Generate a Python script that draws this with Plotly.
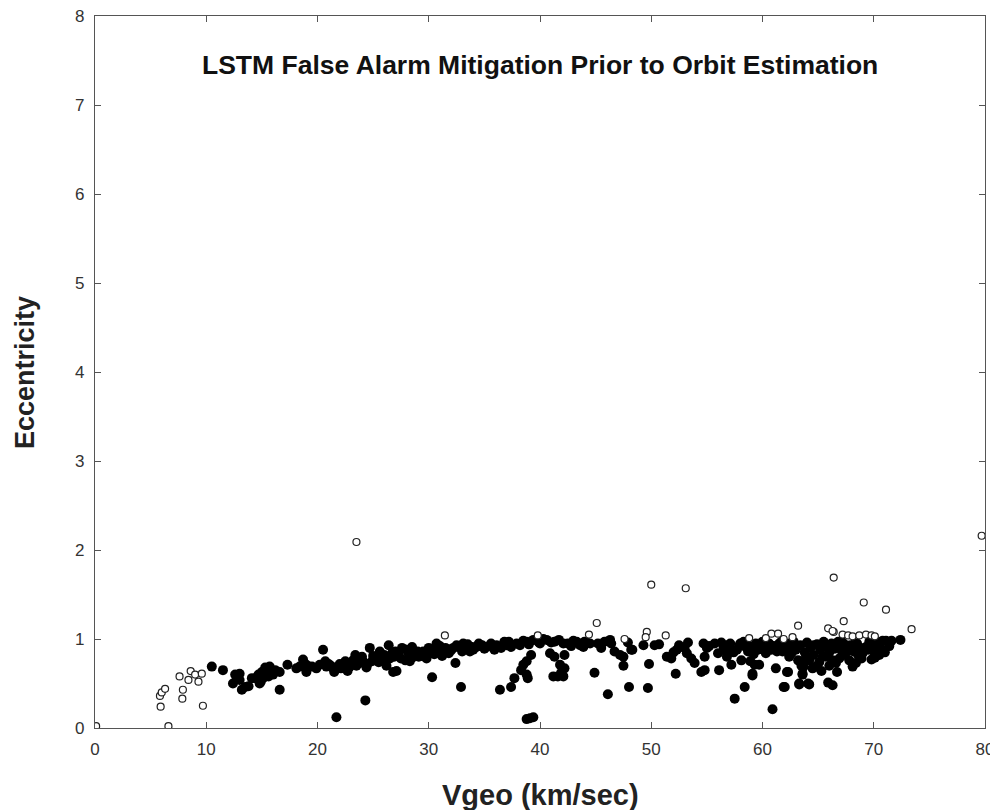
import plotly.graph_objects as go

# Filled (retained) detections
filled_x = [
    10.5, 11.5, 12.4, 12.6, 13.0, 13.2, 13.5, 13.8, 14.1, 14.4, 14.8, 15.0, 15.1, 15.4, 15.7, 15.9, 16.2, 16.6, 16.6, 17.3,
    18.1, 18.4, 18.7, 19.0, 19.0, 19.5, 19.9, 14.7, 15.3, 13.0, 14.9, 12.8, 16.0, 15.6,
    20.5, 20.7, 20.8, 21.4, 21.8, 21.7, 22.1, 22.5, 22.9, 23.2, 23.7, 24.1, 24.3, 24.7, 24.9, 25.3, 25.8, 26.1, 26.4, 26.7,
    26.8, 27.1, 27.3, 27.6, 27.9, 28.2, 28.5, 28.8, 29.1, 29.5, 30.0, 30.3, 30.4, 30.7, 31.0, 31.5, 31.8, 32.2, 32.4, 32.7,
    32.9, 33.1, 33.4, 33.9, 34.3, 34.8,
    22.0, 23.0, 23.5, 24.0, 24.5, 25.0, 25.5, 26.0, 26.5, 27.0, 27.5, 28.0, 28.5, 29.0, 29.5, 30.0, 30.5, 31.0, 31.5, 32.0,
    32.5, 33.0, 33.5, 34.0, 34.5, 35.0, 21.0, 21.5, 23.4, 25.6, 26.2, 28.3, 29.8, 31.2, 33.7, 22.7, 24.4,
    35.2, 36.1, 37.0, 37.9, 38.8, 39.7, 40.6, 41.3, 42.1, 42.5, 43.3, 43.6, 44.0, 43.9, 45.2, 45.5, 46.3, 46.4, 46.7, 47.2,
    47.5, 47.5, 48.3, 48.0, 44.9, 46.1,
    39.2, 38.8, 38.5, 38.3, 38.8, 38.9, 37.7, 37.4, 36.4, 39.1, 39.4, 38.8,
    40.9, 41.3, 42.2, 41.8, 42.2, 41.2, 41.6, 42.1, 41.9,
    35.6, 36.5, 36.8, 37.4, 38.2, 38.5, 39.0, 39.4, 40.0, 40.3, 41.0, 41.7, 42.8, 43.0, 44.5, 35.9, 37.2,
    48.2, 49.3, 49.8, 49.7, 50.7, 51.8, 52.3, 52.2, 52.5, 53.2, 53.3, 53.6, 53.9, 54.5, 54.7, 54.8, 54.8, 55.7, 56.0, 56.1,
    56.5, 56.8, 57.1, 57.2, 57.5, 57.7, 58.0, 58.1, 58.4, 58.5, 58.9, 59.1, 59.4, 59.7, 60.0, 60.3, 60.9, 61.2, 61.5, 61.9,
    62.2, 62.7,
    51.4, 52.0, 53.0, 55.2, 56.3, 56.6, 57.0, 57.4, 57.9, 58.3, 58.7, 59.0, 59.2, 59.6, 59.9, 60.2, 60.6, 60.8, 61.0, 61.3,
    61.7, 62.0, 62.4, 59.3, 59.1, 60.6, 61.8, 62.4, 62.3,
    63.3, 64.1, 65.9, 66.3, 62.0, 63.3, 64.2, 72.4, 71.1, 70.8, 71.0, 70.5, 70.1, 69.8, 68.1, 68.4, 68.9, 63.6, 63.7, 64.2,
    64.8, 65.4, 66.6, 67.2, 67.6, 69.3, 69.9, 70.3, 63.6, 64.5, 64.9, 63.2, 63.5, 65.7, 66.3, 66.9, 67.4, 67.7,
    62.8, 63.0, 63.4, 63.8, 64.0, 64.3, 64.6, 64.9, 65.2, 65.5, 65.8, 66.0, 66.2, 66.5, 66.8, 67.0, 67.3, 67.9, 68.2, 68.5,
    68.8, 69.0, 69.5, 70.0, 70.6, 71.4, 71.6, 65.1, 66.0, 67.8, 68.6, 62.6, 63.9, 65.3, 66.7,
    20.2, 21.2, 22.4, 23.8, 25.2, 26.9, 28.7, 30.9, 33.2, 36.8, 39.9, 44.2, 45.8, 47.9, 50.3, 55.0, 56.9, 58.6, 61.1, 64.6,
    65.6, 67.1, 68.3, 69.6, 70.4,
]
filled_y = [
    0.69, 0.65, 0.50, 0.60, 0.61, 0.43, 0.46, 0.47, 0.56, 0.56, 0.50, 0.63, 0.56, 0.65, 0.69, 0.63, 0.65, 0.43, 0.63, 0.71,
    0.67, 0.69, 0.77, 0.71, 0.63, 0.69, 0.67, 0.60, 0.68, 0.54, 0.52, 0.58, 0.60, 0.58,
    0.88, 0.75, 0.69, 0.67, 0.67, 0.12, 0.67, 0.75, 0.69, 0.76, 0.78, 0.75, 0.31, 0.90, 0.75, 0.78, 0.80, 0.76, 0.93, 0.84,
    0.63, 0.64, 0.82, 0.90, 0.76, 0.84, 0.91, 0.82, 0.80, 0.86, 0.84, 0.57, 0.88, 0.95, 0.86, 0.90, 0.84, 0.90, 0.73, 0.91,
    0.46, 0.95, 0.90, 0.91, 0.91, 0.93,
    0.72, 0.73, 0.70, 0.80, 0.72, 0.81, 0.74, 0.82, 0.78, 0.86, 0.78, 0.88, 0.79, 0.86, 0.81, 0.90, 0.83, 0.92, 0.85, 0.87,
    0.93, 0.86, 0.94, 0.88, 0.95, 0.89, 0.72, 0.63, 0.82, 0.86, 0.70, 0.75, 0.78, 0.81, 0.86, 0.64, 0.68,
    0.91, 0.93, 0.93, 0.95, 0.97, 0.99, 0.99, 0.97, 0.95, 0.95, 0.97, 0.93, 0.97, 0.91, 0.95, 0.90, 0.99, 0.95, 0.86, 0.82,
    0.80, 0.70, 0.88, 0.46, 0.62, 0.38,
    0.82, 0.75, 0.71, 0.65, 0.60, 0.56, 0.56, 0.46, 0.43, 0.11, 0.12, 0.10,
    0.84, 0.80, 0.82, 0.71, 0.67, 0.58, 0.58, 0.58, 0.62,
    0.95, 0.90, 0.96, 0.91, 0.93, 0.98, 0.94, 0.99, 0.95, 1.00, 0.96, 0.99, 0.92, 0.98, 0.95, 0.88, 0.97,
    0.88, 0.93, 0.72, 0.45, 0.94, 0.78, 0.88, 0.61, 0.93, 0.84, 0.96, 0.78, 0.73, 0.63, 0.95, 0.80, 0.65, 0.95, 0.84, 0.65,
    0.91, 0.80, 0.95, 0.71, 0.33, 0.88, 0.95, 0.76, 0.46, 0.91, 0.75, 0.61, 0.95, 0.71, 0.97, 0.84, 0.21, 0.67, 0.95, 0.46,
    0.63, 0.91,
    0.80, 0.85, 0.90, 0.92, 0.96, 0.87, 0.90, 0.85, 0.92, 0.97, 0.86, 0.91, 0.83, 0.88, 0.93, 0.90, 0.95, 0.88, 0.92, 0.86,
    0.97, 0.90, 0.95, 0.71, 0.59, 0.88, 0.86, 0.80, 0.63,
    0.50, 0.50, 0.51, 0.48, 0.46, 0.49, 0.49, 0.99, 0.98, 0.98, 0.85, 0.82, 0.79, 0.77, 0.69, 0.73, 0.78, 0.61, 0.69, 0.76,
    0.69, 0.80, 0.73, 0.84, 0.86, 0.91, 0.95, 0.93, 0.60, 0.67, 0.69, 0.76, 0.70, 0.80, 0.76, 0.78, 0.82, 0.88,
    0.97, 0.88, 0.93, 0.85, 0.96, 0.90, 0.82, 0.94, 0.88, 0.97, 0.91, 0.85, 0.95, 0.89, 0.97, 0.92, 0.95, 0.93, 0.86, 0.95,
    0.90, 0.84, 0.88, 0.86, 0.90, 0.92, 0.98, 0.74, 0.70, 0.76, 0.82, 0.84, 0.79, 0.64, 0.63,
    0.71, 0.70, 0.70, 0.73, 0.77, 0.80, 0.85, 0.88, 0.89, 0.97, 0.96, 0.96, 0.97, 0.96, 0.93, 0.90, 0.93, 0.94, 0.90, 0.93,
    0.92, 0.97, 0.95, 0.97, 0.97,
]

# Open (mitigated false alarm) detections
open_x = [
    0.1, 5.9, 5.84, 6.0, 6.3, 6.6, 7.6, 7.9, 7.85, 8.4, 8.6, 9.0, 9.3, 9.6, 9.7,
    23.5, 31.45, 39.8, 45.1, 44.4, 49.6, 49.5, 47.6, 51.3, 58.8, 60.8, 61.4, 63.2, 50.0, 53.1,
    66.4, 69.1, 71.1, 67.3, 73.4, 79.7, 65.9, 66.4, 67.2, 67.7, 68.1, 68.7, 69.3, 69.8, 70.1,
    62.7, 60.3, 61.9, 66.3,
]
open_y = [
    0.02, 0.24, 0.36, 0.40, 0.44, 0.02, 0.58, 0.43, 0.33, 0.54, 0.64, 0.60, 0.52, 0.61, 0.25,
    2.09, 1.04, 1.04, 1.18, 1.05, 1.08, 1.02, 1.00, 1.04, 1.01, 1.06, 1.06, 1.15, 1.61, 1.57,
    1.69, 1.41, 1.33, 1.20, 1.11, 2.16, 1.12, 1.08, 1.05, 1.04, 1.03, 1.04, 1.05, 1.04, 1.03,
    1.02, 1.01, 1.00, 1.09,
]

x_ticks = [0, 10, 20, 30, 40, 50, 60, 70, 80]
y_ticks = [0, 1, 2, 3, 4, 5, 6, 7, 8]

title_text = "LSTM False Alarm Mitigation Prior to Orbit Estimation"
x_label = "Vgeo (km/sec)"
y_label = "Eccentricity"

fig = go.Figure()
fig.add_trace(go.Scatter(
    x=filled_x, y=filled_y, mode="markers",
    marker=dict(symbol="circle", size=10, color="black", line=dict(width=0)),
    showlegend=False, hoverinfo="x+y",
))
fig.add_trace(go.Scatter(
    x=open_x, y=open_y, mode="markers",
    marker=dict(symbol="circle", size=7, color="white", line=dict(width=1.2, color="#222")),
    showlegend=False, hoverinfo="x+y",
))

tick_font = dict(family="Liberation Sans Narrow, Arial Narrow, Liberation Sans, Arial, sans-serif", size=17, color="#333")
axis_common = dict(
    showgrid=False, zeroline=False, showline=True, linecolor="#555", linewidth=1.3,
    mirror="ticks", ticks="inside", ticklen=6, tickcolor="#555", tickwidth=1,
    tickfont=tick_font, automargin=False, ticklabeloverflow="allow",
)

bold_font = "Liberation Sans, Arial, sans-serif"
fig.update_layout(
    width=990, height=802,
    margin=dict(l=87, r=13, t=8, b=82),
    paper_bgcolor="white", plot_bgcolor="white",
    xaxis=dict(range=[0, 80], tickvals=x_ticks, ticktext=[str(v) for v in x_ticks],
               ticklabelstandoff=5, **axis_common),
    yaxis=dict(range=[0, 8], tickvals=y_ticks, ticktext=[str(v) for v in y_ticks],
               ticklabelstandoff=6, **axis_common),
    annotations=[
        dict(text="<b>" + title_text + "</b>", x=0.5, y=0.931, xref="paper", yref="paper",
             xanchor="center", yanchor="middle", showarrow=False,
             font=dict(family=bold_font, size=26.5, color="#111")),
        dict(text="<b>" + x_label + "</b>", x=0.5, y=-0.094, xref="paper", yref="paper",
             xanchor="center", yanchor="middle", showarrow=False,
             font=dict(family=bold_font, size=29, color="#222")),
        dict(text="<b>" + y_label + "</b>", x=-0.0787, y=0.5, xref="paper", yref="paper",
             xanchor="center", yanchor="middle", showarrow=False, textangle=-90,
             font=dict(family=bold_font, size=27, color="#222")),
    ],
)

fig.write_html("out.html")
